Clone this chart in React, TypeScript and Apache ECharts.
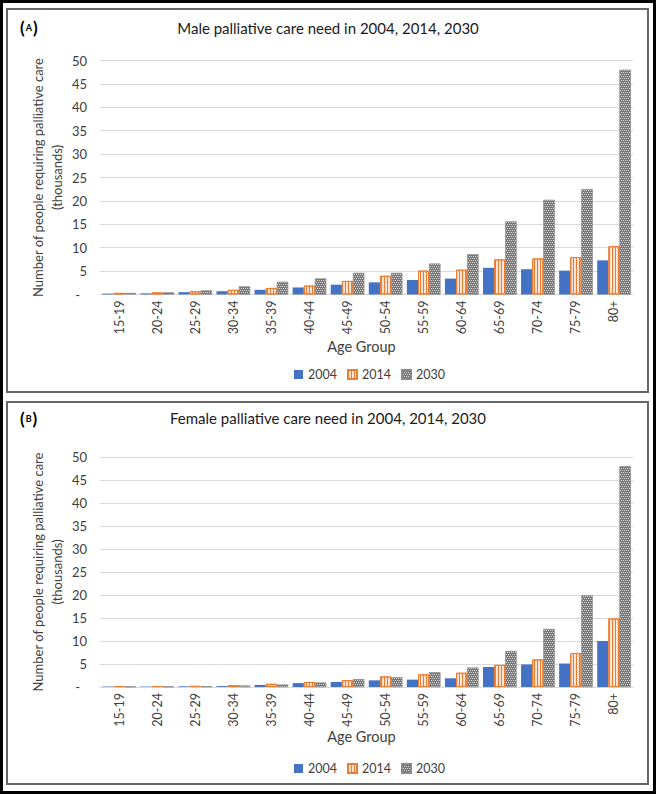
import React, { useEffect, useRef } from 'react';
import * as echarts from 'echarts';

const categories = ['15-19', '20-24', '25-29', '30-34', '35-39', '40-44', '45-49', '50-54', '55-59', '60-64', '65-69', '70-74', '75-79', '80+'];
const years = ['2004', '2014', '2030'];

const male2004 = [0.2, 0.25, 0.5, 0.7, 1.0, 1.5, 2.1, 2.6, 3.1, 3.4, 5.7, 5.4, 5.1, 7.3];
const male2014 = [0.35, 0.45, 0.7, 1.0, 1.4, 1.9, 2.9, 4.0, 5.1, 5.3, 7.5, 7.7, 8.0, 10.3];
const male2030 = [0.3, 0.45, 0.85, 1.7, 2.7, 3.4, 4.6, 4.6, 6.6, 8.6, 15.6, 20.2, 22.5, 48];

const female2004 = [0.1, 0.1, 0.15, 0.2, 0.45, 0.85, 1.1, 1.45, 1.6, 1.9, 4.35, 4.9, 5.1, 10.0];
const female2014 = [0.2, 0.2, 0.25, 0.4, 0.7, 1.1, 1.5, 2.3, 2.75, 3.1, 4.8, 6.0, 7.4, 14.9];
const female2030 = [0.1, 0.1, 0.15, 0.3, 0.5, 0.95, 1.7, 2.1, 3.2, 4.2, 7.8, 12.6, 19.9, 48];

const titles = ['Male palliative care need in 2004, 2014, 2030', 'Female palliative care need in 2004, 2014, 2030'];
const panelLetters = ['A', 'B'];
const yAxisTitle = 'Number of people requiring palliative care\n(thousands)';
const xAxisTitle = 'Age Group';

const FONT = 'Lato, "Open Sans", sans-serif';
const TXT = '#404040';

function makeSeries(idx: number, d: number[][]) {
  const common = { type: 'bar', xAxisIndex: idx, yAxisIndex: idx, barGap: '0%', barCategoryGap: '12%' };
  return [
    { ...common, name: years[0], data: d[0], itemStyle: { color: '#4472C4' } },
    {
      ...common, name: years[1], data: d[1],
      itemStyle: {
        color: '#FCE4D6', borderColor: '#ED7D31', borderWidth: 1,
        decal: { symbol: 'rect', symbolSize: 1, color: '#ED7D31', dashArrayX: [1, 2], dashArrayY: [1, 0] },
      },
    },
    {
      ...common, name: years[2], data: d[2],
      itemStyle: {
        color: '#767676', borderColor: '#8a8a8a', borderWidth: 0.5,
        decal: { symbol: 'rect', symbolSize: 1, color: 'rgba(255,255,255,0.75)', dashArrayX: [[1, 1], [0, 1, 1, 0]], dashArrayY: [1, 1] },
      },
    },
  ];
}

export default function App() {
  const ref = useRef<HTMLDivElement>(null);
  useEffect(() => {
    if (!ref.current) return;
    const chart = echarts.init(ref.current, undefined, { renderer: 'svg' });
    const grids = [
      { left: 100, top: 60.5, width: 533, height: 234 },
      { left: 100, top: 457, width: 533, height: 230 },
    ];
    const xNameGaps = [44, 42];
    const xAxes = grids.map((g, i) => ({
      type: 'category', gridIndex: i, data: categories,
      axisTick: { show: false },
      axisLine: { lineStyle: { color: '#d9d9d9', width: 1 } },
      axisLabel: { rotate: 90, fontSize: 12.5, color: TXT, margin: 6, fontFamily: FONT },
      name: xAxisTitle, nameLocation: 'middle', nameGap: xNameGaps[i], nameMoveOverlap: false,
      nameTextStyle: { fontSize: 14.5, color: TXT, fontFamily: FONT, padding: [0, 10, 0, 0] },
    }));
    const yAxes = grids.map((g, i) => ({
      type: 'value', gridIndex: i, min: 0, max: 50, interval: 5,
      axisLine: { show: false }, axisTick: { show: false },
      splitLine: { lineStyle: { color: '#d9d9d9', width: 1 } },
      axisLabel: {
        fontSize: 13, color: TXT, margin: 13, fontFamily: FONT,
        formatter: (v: number) => (v === 0 ? '{z|-}' : String(v)),
        rich: { z: { fontSize: 13, color: TXT, padding: [0, 7, 0, 0], fontFamily: FONT } },
      },
      name: yAxisTitle, nameLocation: 'middle', nameGap: 33, nameMoveOverlap: false,
      nameTextStyle: { fontSize: 13, color: TXT, lineHeight: 19.5, fontFamily: FONT },
    }));
    const titleTops = [15, 405];
    const legendTops = [363, 757];
    const option: any = {
      animation: false,
      backgroundColor: '#ffffff',
      title: titles.map((t, i) => ({
        text: t, left: 'center', top: titleTops[i],
        textStyle: { fontSize: 15, fontWeight: 'normal', color: '#1a1a1a', fontFamily: FONT },
      })),
      legend: legendTops.map((top) => ({
        data: years, left: 289, top, itemWidth: 9, itemHeight: 9, itemGap: 10, icon: 'rect',
        textStyle: { fontSize: 12.5, color: TXT, fontFamily: FONT },
      })),
      grid: grids,
      xAxis: xAxes,
      yAxis: yAxes,
      series: [
        ...makeSeries(0, [male2004, male2014, male2030]),
        ...makeSeries(1, [female2004, female2014, female2030]),
      ],
      graphic: [
        { type: 'rect', silent: true, z: -1, shape: { x: 1.5, y: 1.5, width: 653, height: 791 }, style: { fill: 'none', stroke: '#000', lineWidth: 3 } },
        { type: 'rect', silent: true, z: -1, shape: { x: 7, y: 9, width: 641, height: 383 }, style: { fill: 'none', stroke: '#666', lineWidth: 2 } },
        { type: 'rect', silent: true, z: -1, shape: { x: 7, y: 402, width: 641, height: 382 }, style: { fill: 'none', stroke: '#666', lineWidth: 2 } },
        ...panelLetters.map((l, i) => ({
          type: 'text', x: 20, y: [27, 418][i], silent: true,
          style: {
            text: `{p|(}{s|${l}}{p|)}`, verticalAlign: 'middle', align: 'left',
            rich: {
              p: { fontSize: 17, fontWeight: 'bold', fill: '#000', fontFamily: FONT },
              s: { fontSize: 9, fontWeight: 'bold', fill: '#000', fontFamily: FONT, padding: [0, 1, 0, 1] },
            },
          },
        })),
      ],
    };
    chart.setOption(option);
    return () => chart.dispose();
  }, []);
  return <div ref={ref} style={{ position: 'absolute', left: 0, top: 0, width: 656, height: 794 }} />;
}
